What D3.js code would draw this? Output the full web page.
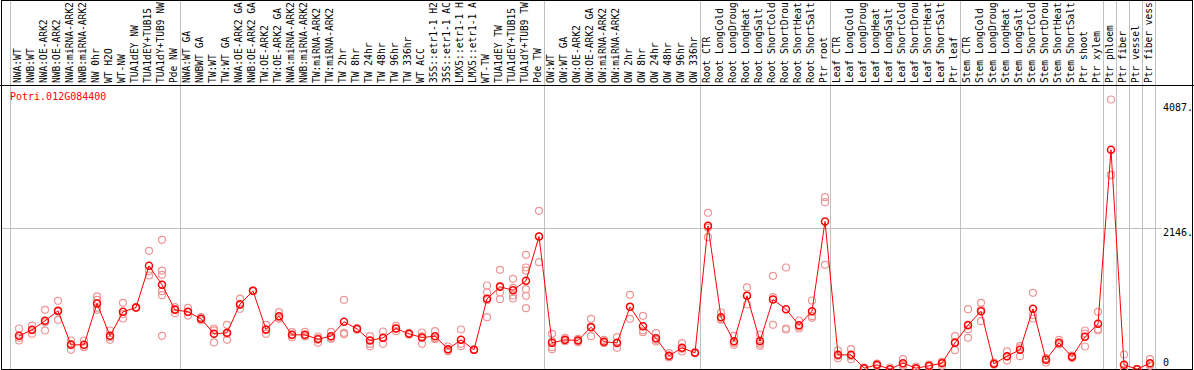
<!DOCTYPE html>
<html>
<head>
<meta charset="utf-8">
<script src="https://cdn.jsdelivr.net/npm/d3@7"></script>
<style>
body { margin: 0; background: #fff; }
svg { display: block; font-family: "DejaVu Sans Mono", monospace; font-size: 10px; }
</style>
</head>
<body>
<svg id="chart"></svg>
<script>
const geneName = "Potri.012G084400";

const categories = [
    "NWA:WT", "NWB:WT", "NWA:OE-ARK2", "NWB:OE-ARK2", "NWA:miRNA-ARK2", "NWB:miRNA-ARK2",
    "NW 0hr", "WT H2O", "WT-NW", "TUA1dEY NW", "TUA1dEY+TUB15 NW", "TUA1dY+TUB9 NW", "Pde NW",
    "NWA:WT GA", "NWBWT GA", "TW:WT", "TW:WT GA", "NWA:OE-ARK2 GA", "NWB:OE-ARK2 GA",
    "TW:OE-ARK2", "TW:OE-ARK2 GA", "NWA:miRNA-ARK2 GA", "NWB:miRNA-ARK2 GA", "TW:miRNA-ARK2",
    "TW:miRNA-ARK2 GA", "TW 2hr", "TW 8hr", "TW 24hr", "TW 48hr", "TW 96hr", "TW 336hr",
    "WT ACC", "35S::etr1-1 H2O", "35S::etr1-1 ACC", "LMX5::etr1-1 H2O", "LMX5::etr1-1 ACC",
    "WT-TW", "TUA1dEY TW", "TUA1dEY+TUB15 TW", "TUA1dY+TUB9 TW", "Pde TW",
    "OW:WT", "OW:WT GA", "OW:OE-ARK2", "OW:OE-ARK2 GA", "OW:miRNA-ARK2", "OW:miRNA-ARK2 GA",
    "OW 2hr", "OW 8hr", "OW 24hr", "OW 48hr", "OW 96hr", "OW 336hr",
    "Root CTR", "Root LongCold", "Root LongDrought", "Root LongHeat", "Root LongSalt",
    "Root ShortCold", "Root ShortDrought", "Root ShortHeat", "Root ShortSalt", "Ptr root",
    "Leaf CTR", "Leaf LongCold", "Leaf LongDrought", "Leaf LongHeat", "Leaf LongSalt",
    "Leaf ShortCold", "Leaf ShortDrought", "Leaf ShortHeat", "Leaf ShortSalt", "Ptr leaf",
    "Stem CTR", "Stem LongCold", "Stem LongDrought", "Stem LongHeat", "Stem LongSalt",
    "Stem ShortCold", "Stem ShortDrought", "Stem ShortHeat", "Stem ShortSalt", "Ptr shoot",
    "Ptr xylem", "Ptr phloem", "Ptr fiber", "Ptr vessel", "Ptr fiber vessel"
];

const means = [
    516, 607, 743, 894, 380, 380, 1005, 516, 879, 944,
    1574, 1287, 909, 879, 773, 547, 562, 995, 1196, 612,
    813, 531, 531, 466, 511, 728, 622, 446, 486, 627,
    547, 491, 511, 315, 456, 305, 1075, 1257, 1206, 1347,
    2017, 411, 456, 446, 647, 426, 411, 954, 662, 481,
    214, 335, 259, 2178, 798, 436, 1121, 436, 1065, 919,
    677, 889, 2244, 229, 229, 28, 78, 13, 103, 28,
    63, 103, 411, 677, 889, 93, 209, 305, 924, 154,
    411, 199, 501, 698, 3327, 78, 13, 103
];

const replicates = [
    [627, 486, 446], [672, 547, 600], [909, 597, 720], [1045, 758, 880], [446, 305, 390],
    [446, 345, 350], [1111, 1060, 939, 910], [597, 456, 495], [1015, 778, 845], [940, 950],
    [1801, 1428, 1495], [1967, 1503, 1438, 1191, 1131, 516], [949, 859, 920], [939, 823, 875], [798, 748, 773],
    [627, 416, 598], [683, 456, 547], [1080, 924, 980], [1190, 1200], [683, 547, 606],
    [874, 773, 792], [572, 496, 525], [577, 506, 510], [506, 411, 480], [577, 471, 485],
    [1060, 562, 541], [610, 630], [511, 395, 360], [582, 395, 480], [587, 667, 627],
    [541, 562, 538], [567, 395, 510], [587, 466, 480], [355, 285, 305], [612, 360, 396],
    [300, 310], [1277, 1171, 798, 1054], [1514, 1171, 1070, 1273], [1378, 1126, 1080, 1240],
    [1740, 1549, 1503, 1221, 1121, 934], [2405, 1629, 2017], [547, 345, 315, 437], [486, 436, 446],
    [471, 421, 446], [773, 511, 657], [456, 405, 417], [496, 335, 402], [1136, 773, 954],
    [818, 597, 572], [557, 456, 430], [254, 194, 194], [405, 280, 320], [255, 265],
    [2375, 2007, 2152], [869, 758, 767], [516, 411, 381], [1247, 990, 1126], [536, 395, 365, 448],
    [1423, 1100, 683], [1549, 627, 612], [748, 627, 656], [1050, 813, 788], [2611, 2536, 1589],
    [295, 214, 178], [315, 164, 208], [38, 18, 28], [95, 63, 76], [38, 0, 0],
    [164, 63, 82], [53, 15, 16], [83, 45, 61], [123, 63, 123], [511, 300, 422],
    [919, 486, 617, 686], [1015, 738, 914], [113, 83, 83], [280, 144, 203], [365, 209, 340],
    [1166, 778, 828], [179, 113, 170], [456, 385, 392], [219, 180, 198], [597, 355, 551],
    [879, 617, 597], [4087, 2944, 2950], [234, 0, 0], [13, 13], [164, 63, 82]
];

// last category index of each group (a grey separator follows it)
const groupEnds = [12, 40, 52, 62, 72, 83, 84, 85, 86, 87];

const yMax = 4087;
const yTickValues = [4087, 2146, 0];
const yTickLabels = ["4087.", "2146.", "0"];

const size = { width: 1194, height: 370 };
const frame = { left: 1.5, top: 0.5, right: 1192.5, bottom: 369.5, header: 85.5 };
const step = 13, firstX = 19;
const labelChars = 14;

const svg = d3.select("#chart")
    .attr("width", size.width)
    .attr("height", size.height);

const xScale = d3.scalePoint()
    .domain(d3.range(categories.length))
    .range([firstX, firstX + step * (categories.length - 1)]);
const yScale = d3.scaleLinear()
    .domain([0, yMax * 1.05])
    .range([370, 86]);

const grey = "#c0c0c0";

// vertical separators
const sepX = [xScale(0) - 8.5].concat(groupEnds.map(i => xScale(i) + 5.5));
svg.append("g")
    .selectAll("line")
    .data(sepX)
    .join("line")
    .attr("x1", d => d).attr("x2", d => d)
    .attr("y1", 0).attr("y2", size.height)
    .attr("stroke", grey);

// horizontal grid at the middle tick
const gy = Math.round(yScale(2146)) + 0.5;
svg.append("line")
    .attr("x1", frame.left).attr("x2", 1162)
    .attr("y1", gy).attr("y2", gy)
    .attr("stroke", grey);

// header labels (the column only has room for 14 characters)
svg.append("g")
    .style("font-size", "9.6px")
    .selectAll("text")
    .data(categories)
    .join("text")
    .attr("transform", (d, i) => `translate(${xScale(i) + 2},83) rotate(-90)`)
    .attr("fill", "#000")
    .text(d => d.slice(0, labelChars).trimEnd());

// frame
svg.append("rect")
    .attr("x", frame.left).attr("y", frame.top)
    .attr("width", frame.right - frame.left)
    .attr("height", frame.bottom - frame.top)
    .attr("fill", "none")
    .attr("stroke", "#000");
svg.append("line")
    .attr("x1", 0).attr("x2", size.width)
    .attr("y1", frame.header).attr("y2", frame.header)
    .attr("stroke", "#000");

// title
svg.append("text")
    .attr("x", 10).attr("y", 100)
    .attr("fill", "red")
    .text(geneName);

// y labels
svg.append("g")
    .selectAll("text")
    .data(yTickValues)
    .join("text")
    .attr("x", 1163)
    .attr("y", d => Math.min(Math.max(yScale(d) + 8, 111), 366))
    .attr("fill", "#000")
    .text((d, i) => yTickLabels[i]);

// replicate points
const repPoints = replicates.flatMap((vals, i) => vals.map(v => ({ i, v })));
svg.append("g")
    .selectAll("circle")
    .data(repPoints)
    .join("circle")
    .attr("cx", d => xScale(d.i))
    .attr("cy", d => yScale(d.v))
    .attr("r", 3.5)
    .attr("fill", "none")
    .attr("stroke", "rgb(238,150,150)")
    .attr("stroke-width", 1.2);

// mean line
const line = d3.line()
    .x((d, i) => xScale(i))
    .y(d => yScale(d));
svg.append("path")
    .datum(means)
    .attr("d", line)
    .attr("fill", "none")
    .attr("stroke", "red")
    .attr("stroke-width", 1);

svg.append("g")
    .selectAll("circle")
    .data(means)
    .join("circle")
    .attr("cx", (d, i) => xScale(i))
    .attr("cy", d => yScale(d))
    .attr("r", 3.5)
    .attr("fill", "none")
    .attr("stroke", "red")
    .attr("stroke-width", 1.5);
</script>
</body>
</html>
